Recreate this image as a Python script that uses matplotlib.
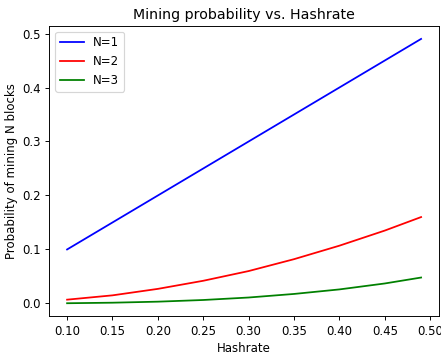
import matplotlib
matplotlib.use("Agg")
import matplotlib.pyplot as plt

hashrate = [0.10, 0.15, 0.20, 0.25, 0.30, 0.35, 0.40, 0.45, 0.49]
prob_n1 = [0.10, 0.15, 0.20, 0.25, 0.30, 0.35, 0.40, 0.45, 0.49]
prob_n2 = [0.007, 0.015, 0.027, 0.042, 0.060, 0.082, 0.107, 0.135, 0.160]
prob_n3 = [0.0004, 0.0014, 0.0033, 0.0064, 0.011, 0.0176, 0.026, 0.037, 0.048]

dpi = 85
fig = plt.figure(figsize=(441 / dpi, 352 / dpi), dpi=dpi)
ax = fig.add_axes([0.112, 0.101, 0.883, 0.826])

ax.plot(hashrate, prob_n1, color='blue', label='N=1')
ax.plot(hashrate, prob_n2, color='red', label='N=2')
ax.plot(hashrate, prob_n3, color='green', label='N=3')

ax.set_title('Mining probability vs. Hashrate')
ax.set_xlabel('Hashrate')
ax.set_ylabel('Probability of mining N blocks')
ax.legend(loc='upper left')

fig.savefig('out.png', dpi=dpi)
